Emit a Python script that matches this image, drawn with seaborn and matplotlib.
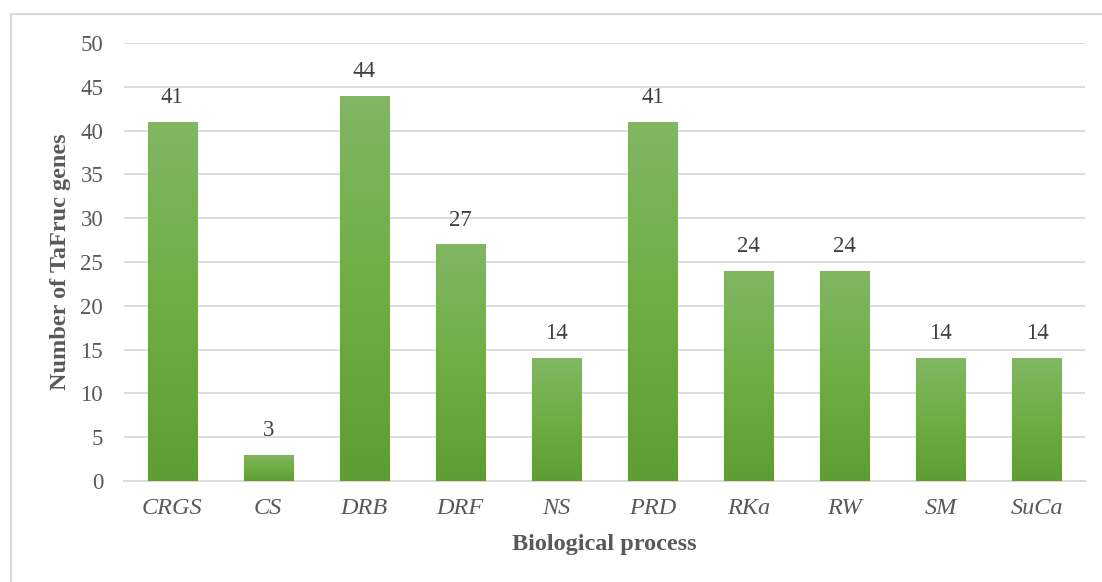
import numpy as np
import pandas as pd
import matplotlib
matplotlib.use("Agg")
import matplotlib.pyplot as plt
import matplotlib.patheffects as pe
from matplotlib.colors import LinearSegmentedColormap
from matplotlib.patches import Rectangle
import seaborn as sns

# Biological process categories and gene counts
processes = ["CRGS", "CS", "DRB", "DRF", "NS", "PRD", "RKa", "RW", "SM", "SuCa"]
gene_counts = [41, 3, 44, 27, 14, 41, 24, 24, 14, 14]
y_ticks = [0, 5, 10, 15, 20, 25, 30, 35, 40, 45, 50]

df = pd.DataFrame({"process": processes, "count": gene_counts})

sns.set_theme(style="white")
plt.rcParams["font.family"] = ["Liberation Serif", "DejaVu Serif"]

W, H = 1102, 582
fig = plt.figure(figsize=(W / 100, H / 100), dpi=100)
ax = fig.add_axes([124 / W, 1 - 481 / H, (1085 - 124) / W, (481 - 43) / H])

sns.barplot(data=df, x="process", y="count", color="#6EAB45", width=0.51,
            ax=ax, saturation=1, zorder=3)

ax.set_ylim(0, 50)
ax.set_xlim(-0.5, len(processes) - 0.5)
ax.set_yticks(y_ticks)

# vertical light-to-dark green gradient clipped to each bar, with a soft shadow
grad_cmap = LinearSegmentedColormap.from_list("bar_grad", ["#5D9E33", "#6EAE43", "#82B663"])
grad = np.linspace(0, 1, 256).reshape(-1, 1)
for patch in ax.patches:
    x0, y0 = patch.get_x(), patch.get_y()
    w, h = patch.get_width(), patch.get_height()
    patch.set_path_effects([pe.SimplePatchShadow(offset=(0, -1), shadow_rgbFace="#888888", alpha=0.35),
                            pe.Normal()])
    im = ax.imshow(grad, extent=[x0, x0 + w, y0, y0 + h], origin="lower",
                   cmap=grad_cmap, aspect="auto", zorder=4, interpolation="bilinear")
    im.set_clip_path(patch)

ax.set_ylim(0, 50)
ax.set_xlim(-0.5, len(processes) - 0.5)

# value labels above bars
for patch, val in zip(ax.patches, gene_counts):
    ax.annotate(str(val), (patch.get_x() + patch.get_width() / 2, val),
                xytext=(0, 10), textcoords="offset points", ha="center", va="bottom",
                fontsize=16.5, color="#404040", zorder=5)

ax.yaxis.grid(True, color="#D9D9D9", linewidth=1.3, zorder=0)
ax.xaxis.grid(False)
for s in ["top", "right", "left"]:
    ax.spines[s].set_visible(False)
ax.spines["bottom"].set_color("#D9D9D9")
ax.spines["bottom"].set_linewidth(1.3)

ax.tick_params(axis="y", length=0, pad=15, labelsize=16.5, labelcolor="#595959")
ax.tick_params(axis="x", length=0, pad=12, labelsize=17.5, labelcolor="#595959")
for lbl in ax.get_xticklabels():
    lbl.set_fontstyle("italic")

ax.set_xlabel("Biological process", fontsize=17.5, fontweight="bold", color="#595959")
ax.set_ylabel("Number of TaFruc genes", fontsize=17.5, fontweight="bold", color="#595959")
ax.xaxis.set_label_coords(0.5, -0.121)
ax.yaxis.set_label_coords(-0.0553, 0.5)

# chart frame
fig.patches.append(Rectangle((11 / W, -0.02), 1.05, 1 - 14 / H + 0.02, transform=fig.transFigure,
                             fill=False, edgecolor="#D9D9D9", linewidth=1.5, zorder=0))

fig.savefig("out.png", dpi=100, facecolor="white")
